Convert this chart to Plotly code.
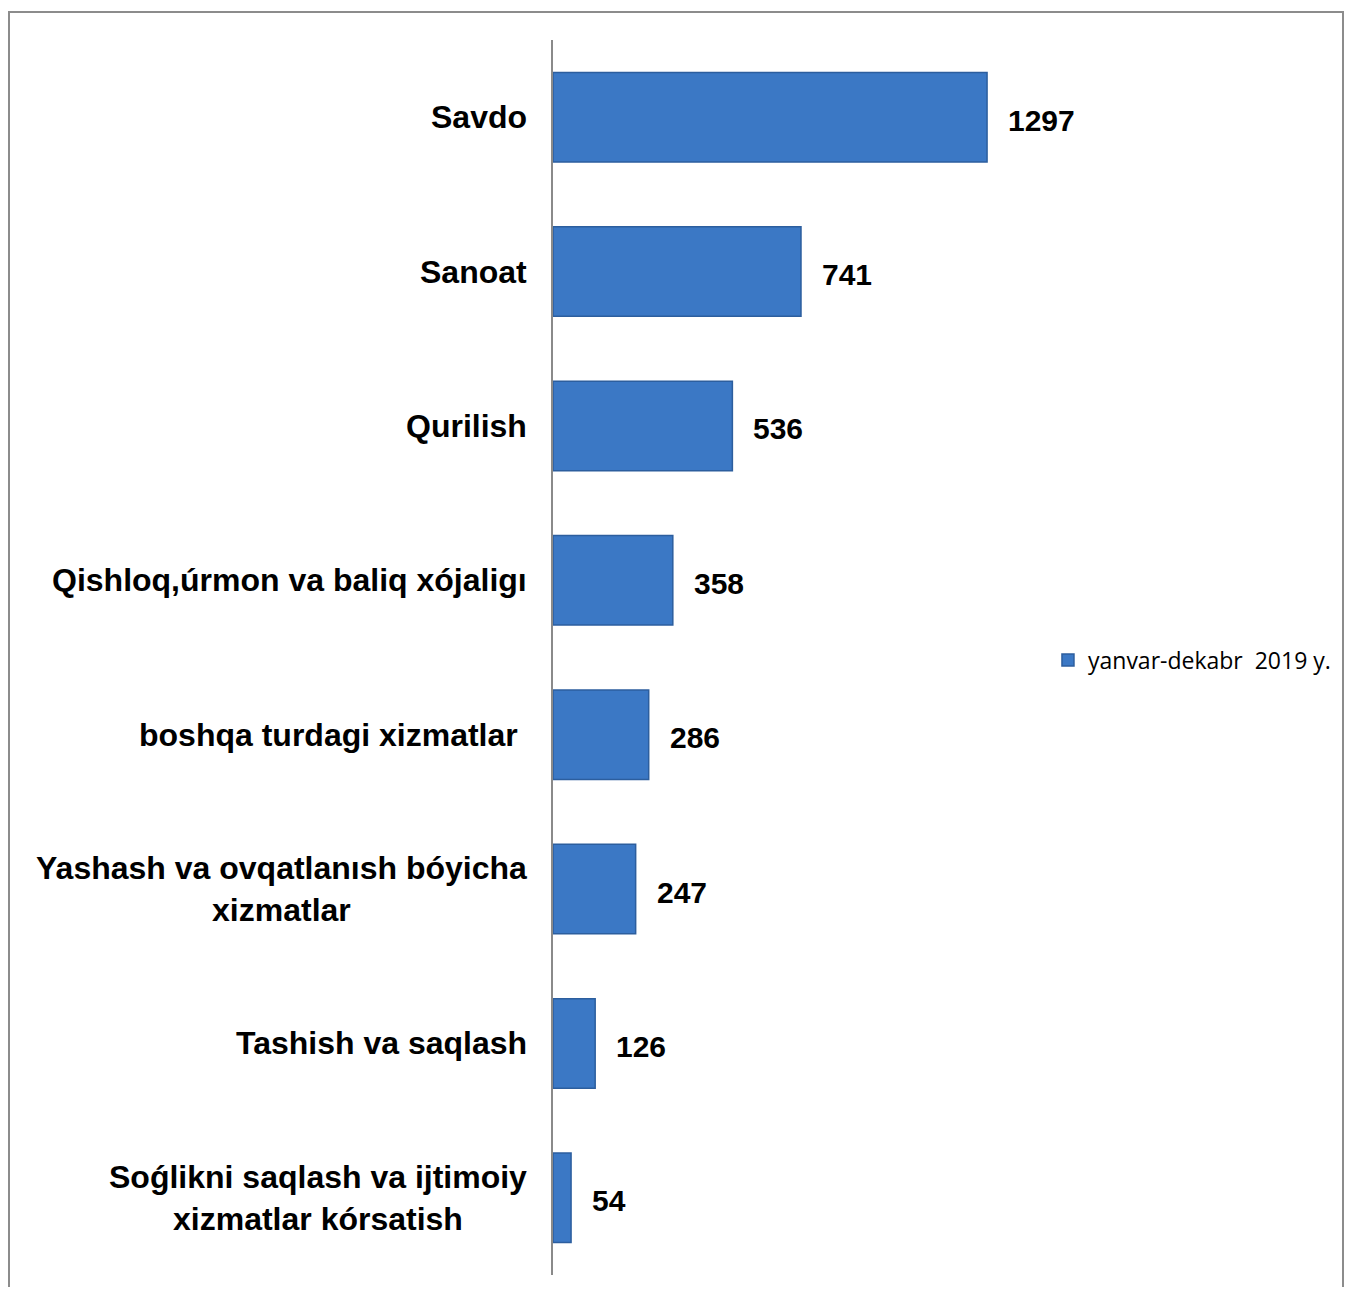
import plotly.graph_objects as go

categories = [
    "Savdo",
    "Sanoat",
    "Qurilish",
    "Qishloq,úrmon va baliq xójaligı",
    "boshqa turdagi xizmatlar\u00a0",
    "Yashash va ovqatlanısh bóyicha<br>xizmatlar",
    "Tashish va saqlash",
    "Soǵlikni saqlash va ijtimoiy<br>xizmatlar kórsatish",
]
values = [1297, 741, 536, 358, 286, 247, 126, 54]
series_name = "yanvar-dekabr\u00a0\u00a02019\u00a0y."

W, H = 1338, 1279
ml, mr, mt, mb = 545, 291, 32, 12
pw = W - ml - mr
ph = H - mt - mb

FONT = 'Arial, "Liberation Sans", sans-serif'

fig = go.Figure()
fig.add_trace(go.Bar(
    y=categories, x=values, orientation="h", name=series_name,
    marker=dict(color="#3B78C5", line=dict(color="#2C5E9E", width=1.5)),
    showlegend=True,
))

annotations = []
for c, v in zip(categories, values):
    annotations.append(dict(
        x=0, xref="paper", y=c, yref="y",
        text="<b>" + c.replace("<br>", "</b><br><b>") + "</b>",
        showarrow=False,
        xanchor="right", yanchor="middle", align="center", xshift=-24,
        font=dict(family=FONT, size=32, color="black"),
    ))
    annotations.append(dict(
        x=v, xref="x", y=c, yref="y", text=f"<b>{v}</b>", showarrow=False,
        xanchor="left", yanchor="middle", xshift=19, yshift=-3,
        font=dict(family=FONT, size=30, color="black"),
    ))

def px2paper_x(xf):
    return (xf - ml) / pw

def px2paper_y(yf):
    return (H - mb - yf) / ph

fig.add_shape(type="rect", xref="paper", yref="paper",
              x0=px2paper_x(1), x1=px2paper_x(1335),
              y0=px2paper_y(1300), y1=px2paper_y(4),
              line=dict(color="#8C8C8C", width=2), fillcolor="rgba(0,0,0,0)")

fig.update_layout(
    width=W, height=H,
    margin=dict(l=ml, r=mr, t=mt, b=mb, autoexpand=False),
    paper_bgcolor="white", plot_bgcolor="white",
    bargap=0.42,
    annotations=annotations,
    xaxis=dict(range=[0, 1500], visible=False, showgrid=False, zeroline=False),
    yaxis=dict(autorange="reversed", showticklabels=False, ticks="",
               showline=True, linecolor="#8A8A8A", linewidth=1.5,
               showgrid=False, zeroline=False),
    legend=dict(x=0.986, y=0.498, xanchor="left", yanchor="middle",
                font=dict(family="Open Sans, Lato", size=23, color="black"),
                bgcolor="rgba(0,0,0,0)"),
)

fig.write_html("out.html")
